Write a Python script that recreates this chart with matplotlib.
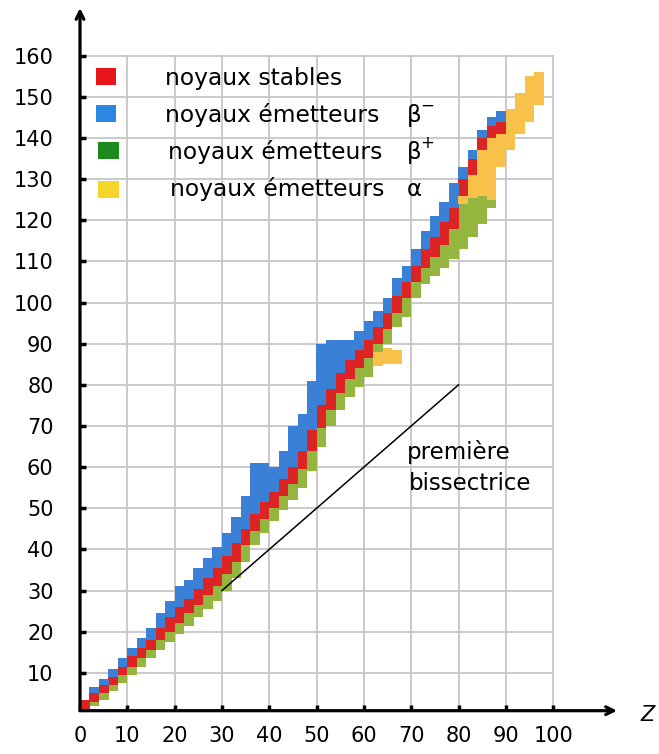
import matplotlib
matplotlib.use("Agg")
import matplotlib.pyplot as plt
from matplotlib.patches import Rectangle

# ---------------- data ----------------
z_band = [1, 3, 5, 7, 9, 11, 13, 15, 17, 19, 21, 23, 25, 27, 29, 31, 33, 35, 37, 39,
          41, 43, 45, 47, 49, 51, 53, 55, 57, 59, 61, 63, 65, 67, 69, 71, 73, 75, 77, 79,
          81, 83, 85, 87, 89]
green_bot = [1, 2, 3.5, 5.5, 7.5, 9.5, 11.5, 13.5, 15.5, 17.5, 19.5, 21.5, 23.5, 25.5, 27.5,
             30, 33, 37, 41, 44, 47, 49.5, 52, 55, 59, 65, 70, 74, 77, 79.5, 82, 86, 90, 94,
             96.5, 101, 104.5, 106.5, 108.5, 110.5, 113, 116, 119, 123, 133]
green_top = [1, 3, 5, 7, 9.5, 11.5, 13.5, 15.5, 18, 20, 22, 24.5, 26.5, 29, 31, 34, 37, 41,
             44.5, 47.5, 50, 53, 56, 59.5, 64, 69.5, 74, 78, 81.5, 84, 86.5, 90, 93.5, 97.5,
             101, 105, 108.5, 111, 114, 118, 124, 125.5, 126, 125, 133]
red_bot = [1, 3, 5, 7, 9.5, 11.5, 13.5, 15.5, 18, 20, 22, 24.5, 26.5, 29, 31, 34, 37, 41,
           44.5, 47.5, 50, 53, 56, 59.5, 64, 69.5, 74, 78, 81.5, 84, 86.5, 90, 93.5, 97.5,
           101, 105, 108.5, 111, 114, 118, 126, 131, 137, 140, 141]
red_top = [3.5, 5, 7, 9, 11.5, 14, 16, 18, 21, 23.5, 26, 28, 30.5, 33, 35.5, 38.5, 41.5, 45,
           48.5, 51.5, 54, 57, 60, 64, 69, 75, 79, 83, 86, 88.5, 91, 94, 97.5, 101.5, 105,
           109, 113, 116, 119.5, 123, 130, 135, 140, 143, 144]
blue_top = [3.5, 6.5, 8.5, 11, 13.5, 16, 18.5, 21, 24.5, 27.5, 31, 32.5, 35.5, 38, 40.5, 44,
            48, 53, 61, 61, 60, 64, 70, 73, 81, 90, 91, 91, 91, 93, 95.5, 98, 101, 106, 109,
            113, 117.5, 121, 124.5, 129, 133, 137, 142, 145, 146.5]

z_alpha = [63, 65, 67, 81, 83, 85, 87, 89, 91, 93, 95, 97]
alpha_bot = [84.5, 85, 85, 124, 125.5, 126, 125, 133, 137, 141, 144, 148]
alpha_top = [88, 89, 88.5, 126, 131, 137, 140, 141, 147, 151, 155, 156]

bis_z = [30, 80]
bis_n = [30, 80]

x_ticks = [0, 10, 20, 30, 40, 50, 60, 70, 80, 90, 100]
y_ticks = [10, 20, 30, 40, 50, 60, 70, 80, 90, 100, 110, 120, 130, 140, 150, 160]

legend_labels = ["noyaux stables", "noyaux émetteurs", "noyaux émetteurs", "noyaux émetteurs"]
legend_symbols = ["", "β", "β", "α"]
legend_signs = ["", "−", "+", ""]

# ---------------- colours ----------------
c_red, c_blue, c_green, c_yel = "#dc2424", "#3a80d6", "#95b63e", "#f8c24a"
l_red, l_blue, l_green, l_yel = "#e8161b", "#2b88e2", "#1e8a1e", "#f5d52a"

fig = plt.figure(figsize=(6.59, 7.54), dpi=100)
W, H = 659, 754
x0, y0, x1, y1 = 80, 710.7, 617, 8
ax = fig.add_axes([x0 / W, (H - y0) / H, (x1 - x0) / W, (y0 - y1) / H])
ax.set_xlim(0, 113.5)
ax.set_ylim(0.8, 171.6)
for s in ax.spines.values():
    s.set_visible(False)

# grid limited to the 0-100 / 0-160 box
for v in x_ticks[1:]:
    ax.plot([v, v], [0.8, 160], color="#c6c6c6", lw=1.3, zorder=1)
for h in y_ticks:
    ax.plot([0, 100], [h, h], color="#c6c6c6", lw=1.3, zorder=1)

# bands
def col(z, lo, hi, c):
    ax.bar(z, [b - a for a, b in zip(lo, hi)], bottom=lo, width=2.05, color=c,
           linewidth=0, zorder=3, align="center")

col(z_band, green_bot, green_top, c_green)
col(z_band, red_bot, red_top, c_red)
col(z_band, red_top, blue_top, c_blue)
col(z_alpha, alpha_bot, alpha_top, c_yel)

# bisectrice
ax.plot(bis_z, bis_n, color="black", lw=1.1, zorder=4)
ax.text(69.1, 62.0, "première", fontsize=16.5, ha="left", va="baseline", zorder=5)
ax.text(69.6, 54.4, "bissectrice", fontsize=16.5, ha="left", va="baseline", zorder=5)

# axes with arrows
ax.annotate("", xy=(0, 171.6), xytext=(0, 0.8),
            arrowprops=dict(arrowstyle="->", lw=2.3, color="black", shrinkA=0, shrinkB=0,
                            mutation_scale=14), annotation_clip=False, zorder=6)
ax.annotate("", xy=(113.5, 0.8), xytext=(0, 0.8),
            arrowprops=dict(arrowstyle="->", lw=2.3, color="black", shrinkA=0, shrinkB=0,
                            mutation_scale=14), annotation_clip=False, zorder=6)
fig.text(648 / W, 1 - 715 / H, "Z", fontsize=15, style="italic", ha="center", va="center")

ax.set_xticks(x_ticks)
ax.set_xticklabels([str(v) for v in x_ticks])
ax.set_yticks(y_ticks)
ax.set_yticklabels([str(v) for v in y_ticks])
ax.tick_params(axis="x", direction="in", length=4, width=2.5, labelsize=15, pad=11)
ax.tick_params(axis="y", direction="in", length=4, width=2.5, labelsize=15, pad=19)

# legend (drawn inside the plot)
sq_n = [152.8, 143.9, 134.9, 125.4]
sq_z = [3.4, 3.4, 3.9, 3.9]
sq_c = [l_red, l_blue, l_green, l_yel]
base_n = [152.9, 144.0, 134.9, 125.8]
txt_z = [18.0, 18.0, 18.6, 19.0]
for i in range(4):
    ax.add_patch(Rectangle((sq_z[i], sq_n[i]), 4.3, 4.1, color=sq_c[i], lw=0, zorder=5))
    ax.text(txt_z[i], base_n[i], legend_labels[i], fontsize=16.8, ha="left", va="baseline",
            zorder=5)
    if legend_symbols[i]:
        ax.text(69.1, base_n[i], legend_symbols[i], fontsize=16.5, ha="left", va="baseline",
                zorder=5)
    if legend_signs[i]:
        ax.text(72.0, base_n[i] + 2.6, legend_signs[i], fontsize=12, ha="left",
                va="baseline", zorder=5)

fig.savefig("out.png", dpi=100)
